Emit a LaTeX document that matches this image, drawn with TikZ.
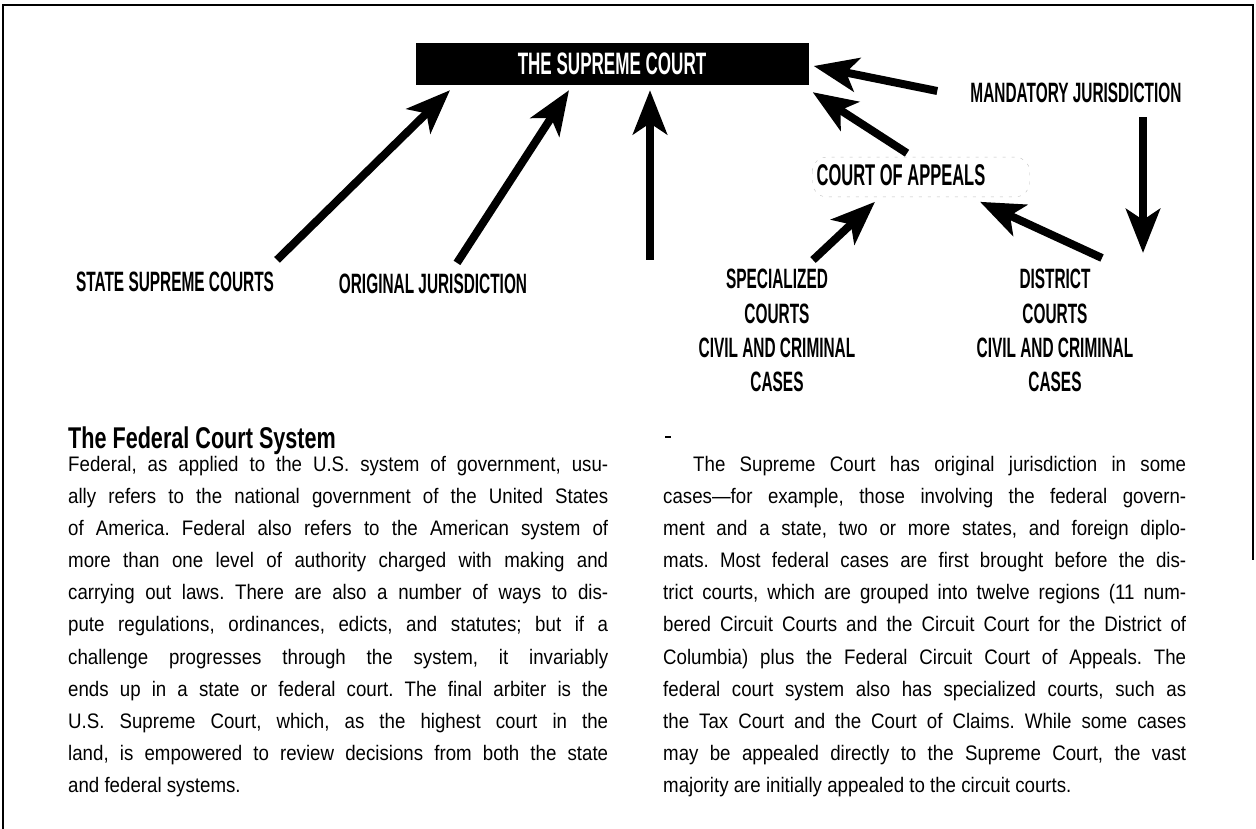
\documentclass[tikz,border=0pt]{standalone}
\usepackage{fontspec}
\setmainfont[FakeStretch=0.89]{Liberation Sans}
\newfontfamily\condfont[FakeStretch=0.55]{Liberation Sans}
\newfontfamily\headfont[FakeStretch=0.72]{Liberation Sans}
\usetikzlibrary{arrows.meta}

\begin{document}
\frenchspacing
\begin{tikzpicture}[x=1pt, y=-1pt,
  courtlabel/.style={font=\condfont\bfseries\fontsize{28}{34.4}\selectfont, inner sep=0, align=center},
  bigarrow/.style={line width=8pt, -{Stealth[length=44pt, width=34pt, inset=11pt]}},
  bodytext/.style={font=\fontsize{21}{32.1}\selectfont, inner sep=0, align=justify, anchor=north west}]

\useasboundingbox (0,0) rectangle (1256,829);

\draw[line width=1.4pt] (3,829) -- (3,5) -- (1253,5) -- (1253,560);

\node[fill=black, text=white, minimum width=393pt, minimum height=42pt,
  font=\condfont\bfseries\fontsize{31}{36}\selectfont] (supreme) at (612,64) {THE SUPREME COURT};

\node[courtlabel, font=\condfont\bfseries\fontsize{30}{36}\selectfont] (appeals) at (901,175) {COURT OF APPEALS};

\draw[gray!50, dash pattern=on 3pt off 6pt, rounded corners=14pt]
  ([xshift=-4pt,yshift=7pt]appeals.north west) rectangle ([xshift=44pt,yshift=-11pt]appeals.south east);

\node[courtlabel] (mandatory) at (1076,93) {MANDATORY JURISDICTION};

\node[courtlabel] (state) at (175,282) {STATE SUPREME COURTS};

\node[courtlabel] (original) at (433,284) {ORIGINAL JURISDICTION};

\node[courtlabel, anchor=north] (special) at (777,269) {SPECIALIZED\\COURTS\\CIVIL AND CRIMINAL\\CASES};

\node[courtlabel, anchor=north] (district) at (1055,269) {DISTRICT\\COURTS\\CIVIL AND CRIMINAL\\CASES};

\coordinate (direct) at (650,260);

\draw[bigarrow] ([xshift=102pt,yshift=12pt]state.north) -- ([xshift=-162pt,yshift=-5pt]supreme.south);

\draw[bigarrow] ([xshift=24pt,yshift=11pt]original.north) -- ([xshift=-43pt,yshift=-5pt]supreme.south);

\draw[bigarrow] (direct) -- ([xshift=38pt,yshift=-5pt]supreme.south);

\draw[bigarrow] ([xshift=6pt,yshift=11pt]appeals.north) -- ([xshift=4pt,yshift=-7pt]supreme.south east);

\draw[bigarrow] ([xshift=-33pt,yshift=2pt]mandatory.west) -- ([xshift=5pt,yshift=-2pt]supreme.east);

\draw[bigarrow] ([xshift=67pt,yshift=-14pt]mandatory.south) -- ([xshift=88pt,yshift=16pt]district.north);

\draw[bigarrow] ([xshift=36pt,yshift=9pt]special.north) -- ([xshift=-26pt,yshift=-16pt]appeals.south);

\draw[bigarrow] ([xshift=47pt,yshift=11pt]district.north) -- ([xshift=79pt,yshift=-16pt]appeals.south);

\node[anchor=base west, inner sep=0, font=\headfont\bfseries\fontsize{30}{36}\selectfont] (title) at (68,448) {The Federal Court System};

\draw[line width=1.2pt] (665,437) -- (671,437);

\node[bodytext, text width=540pt] (leftcol) at (68,456) {Federal, as applied to the U.S. system of government, usu-\linebreak
ally refers to the national government of the United States\linebreak
of America. Federal also refers to the American system of\linebreak
more than one level of authority charged with making and\linebreak
carrying out laws. There are also a number of ways to dis-\linebreak
pute regulations, ordinances, edicts, and statutes; but if a\linebreak
challenge progresses through the system, it invariably\linebreak
ends up in a state or federal court. The final arbiter is the\linebreak
U.S. Supreme Court, which, as the highest court in the\linebreak
land, is empowered to review decisions from both the state\linebreak
and federal systems.};

\node[bodytext, text width=523pt] (rightcol) at (663,456) {\hspace*{30pt}The Supreme Court has original jurisdiction in some\linebreak
cases---for example, those involving the federal govern-\linebreak
ment and a state, two or more states, and foreign diplo-\linebreak
mats. Most federal cases are first brought before the dis-\linebreak
trict courts, which are grouped into twelve regions (11 num-\linebreak
bered Circuit Courts and the Circuit Court for the District of\linebreak
Columbia) plus the Federal Circuit Court of Appeals. The\linebreak
federal court system also has specialized courts, such as\linebreak
the Tax Court and the Court of Claims. While some cases\linebreak
may be appealed directly to the Supreme Court, the vast\linebreak
majority are initially appealed to the circuit courts.};

\end{tikzpicture}
\end{document}
